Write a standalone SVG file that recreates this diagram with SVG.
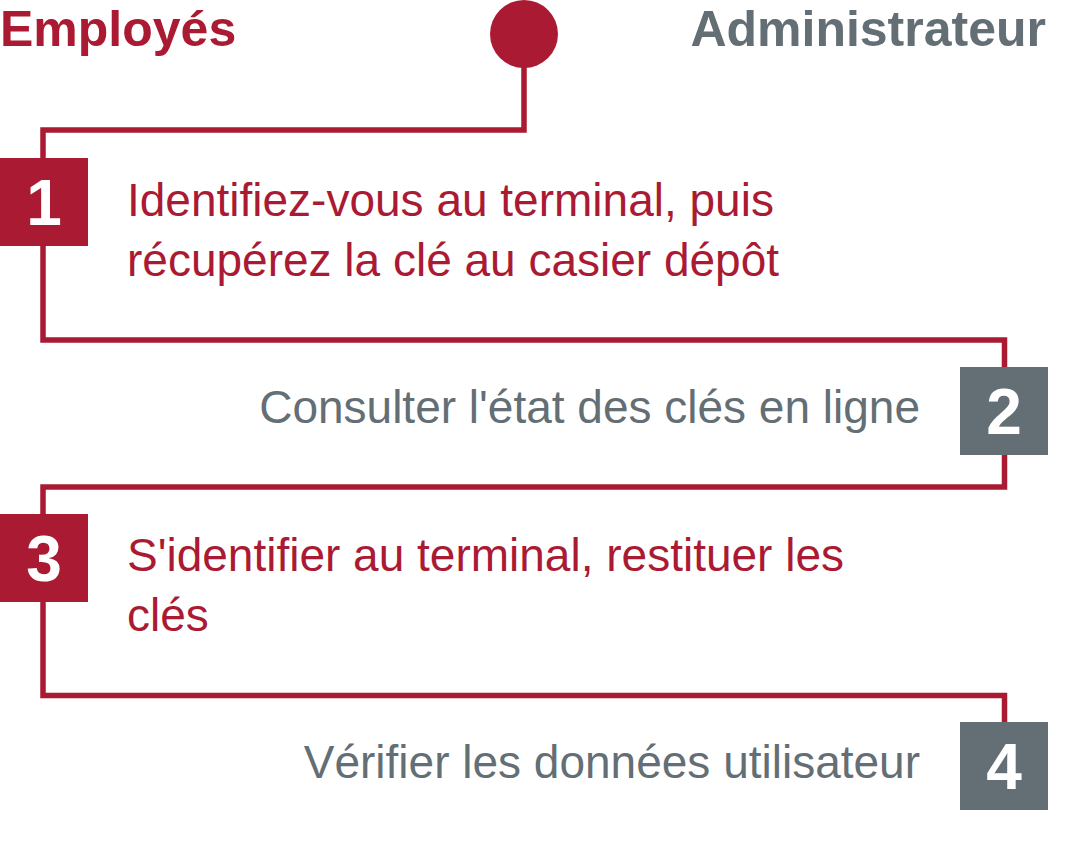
<svg xmlns="http://www.w3.org/2000/svg" width="1079" height="853" viewBox="0 0 1079 853">
<style>
.red{fill:#AB1A33}
.gray{fill:#636E75}
.head{font-family:"Liberation Sans",Arial,sans-serif;font-weight:bold;font-size:50px}
.num{font-family:"Liberation Sans",Arial,sans-serif;font-weight:bold;font-size:64px;fill:#fff;text-anchor:middle}
.txt{font-family:"Liberation Sans",Arial,sans-serif;font-size:46px}
.conn{fill:none;stroke:#AB1A33;stroke-width:5.5}
</style>
<rect width="1079" height="853" fill="#fff"/>
<g id="connectors">
<polyline class="conn" points="524,34 524,130 43,130 43,340 1004.5,340 1004.5,487 43,487 43,695.5 1004.5,695.5 1004.5,722"/>
</g>
<g id="start"><circle class="red" cx="524" cy="34" r="34"/></g>
<g id="header-employes"><text class="head red" x="0" y="46">Employés</text></g>
<g id="header-admin"><text class="head gray" x="1046" y="46" text-anchor="end">Administrateur</text></g>
<g id="step1">
<rect class="red" x="0" y="158" width="88" height="88"/>
<text class="num" x="44" y="225">1</text>
<text class="txt red" x="127" y="216">Identifiez-vous au terminal, puis</text>
<text class="txt red" x="127" y="276">récupérez la clé au casier dépôt</text>
</g>
<g id="step2">
<rect class="gray" x="960" y="367" width="88" height="88"/>
<text class="num" x="1004" y="434">2</text>
<text class="txt gray" x="920" y="423" text-anchor="end">Consulter l'état des clés en ligne</text>
</g>
<g id="step3">
<rect class="red" x="0" y="514" width="88" height="88"/>
<text class="num" x="44" y="581">3</text>
<text class="txt red" x="127" y="571">S'identifier au terminal, restituer les</text>
<text class="txt red" x="127" y="631">clés</text>
</g>
<g id="step4">
<rect class="gray" x="960" y="722" width="88" height="88"/>
<text class="num" x="1004" y="789">4</text>
<text class="txt gray" x="920" y="778" text-anchor="end">Vérifier les données utilisateur</text>
</g>
</svg>
